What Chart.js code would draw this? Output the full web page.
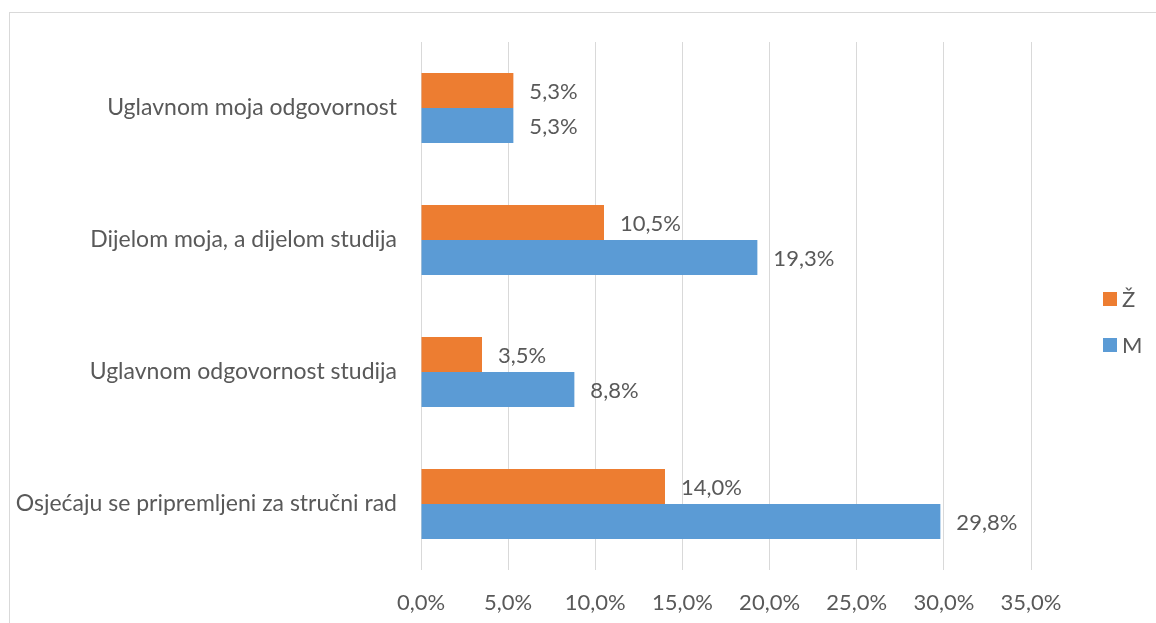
<!DOCTYPE html>
<html>
<head>
<meta charset="utf-8">
<script src="https://cdn.jsdelivr.net/npm/chart.js@4/dist/chart.umd.min.js"></script>
<style>
html,body{margin:0;padding:0;background:#fff;}
#wrap{position:relative;width:1156px;height:623px;}
</style>
</head>
<body>
<div id="wrap"><canvas id="c" width="1156" height="623"></canvas></div>
<script>
const categories = [
  "Uglavnom moja odgovornost",
  "Dijelom moja, a dijelom studija",
  "Uglavnom odgovornost studija",
  "Osjećaju se pripremljeni za stručni rad"
];
const seriesNames = ["Ž", "M"];
const valuesZ = [5.3, 10.5, 3.5, 14.0];
const valuesM = [5.3, 19.3, 8.8, 29.8];
const xTicks = [0, 5, 10, 15, 20, 25, 30, 35];

const FONT = "Lato, 'Open Sans', sans-serif";
const TEXT = "#595959";
const colors = ["#ED7D31", "#5B9BD5"];

function fmt(v){ return v.toFixed(1).replace('.', ',') + '%'; }

const extras = {
  id: 'extras',
  beforeDraw(chart){
    const ctx = chart.ctx;
    ctx.save();
    ctx.fillStyle = '#fff';
    ctx.fillRect(0,0,chart.width,chart.height);
    ctx.strokeStyle = '#d9d9d9';
    ctx.lineWidth = 1;
    ctx.strokeRect(9.5, 12.5, 1300, 800);
    ctx.restore();
  },
  afterDatasetsDraw(chart){
    const ctx = chart.ctx;
    ctx.save();
    ctx.font = "22px " + FONT;
    ctx.fillStyle = TEXT;
    ctx.textAlign = 'left';
    ctx.textBaseline = 'middle';
    chart.data.datasets.forEach((ds, di) => {
      const meta = chart.getDatasetMeta(di);
      meta.data.forEach((bar, i) => {
        ctx.fillText(fmt(ds.data[i]), bar.x + 16, bar.y + 1);
      });
    });
    // legend
    const lx = 1103, ly = [299, 345];
    seriesNames.forEach((n, i) => {
      ctx.fillStyle = colors[i];
      ctx.fillRect(lx, ly[i] - 7, 14, 14);
      ctx.fillStyle = TEXT;
      ctx.fillText(n, lx + 19, ly[i] + 1);
    });
    ctx.restore();
  }
};

new Chart(document.getElementById('c'), {
  type: 'bar',
  data: {
    labels: categories,
    datasets: [
      { label: seriesNames[0], data: valuesZ, backgroundColor: colors[0] },
      { label: seriesNames[1], data: valuesM, backgroundColor: colors[1] }
    ]
  },
  options: {
    indexAxis: 'y',
    responsive: false,
    animation: false,
    devicePixelRatio: 1,
    categoryPercentage: 0.53,
    barPercentage: 1.0,
    layout: { padding: { top: 42, right: 125, bottom: 0, left: 0 } },
    plugins: { legend: { display: false }, tooltip: { enabled: false } },
    scales: {
      x: {
        min: 0, max: 35,
        afterBuildTicks(axis){ axis.ticks = xTicks.map(v => ({value: v})); },
        afterFit(axis){ axis.height = 53; },
        grid: { color: '#d9d9d9', drawTicks: false, lineWidth: 1 },
        border: { display: false },
        ticks: {
          padding: 20,
          maxRotation: 0,
          color: TEXT,
          font: { family: FONT, size: 22 },
          callback: v => fmt(v)
        }
      },
      y: {
        afterFit(axis){ axis.width = 421; },
        grid: { display: false, drawTicks: false },
        border: { display: false },
        ticks: {
          padding: 24,
          color: TEXT,
          font: { family: FONT, size: 23 }
        }
      }
    }
  },
  plugins: [extras]
});
</script>
</body>
</html>
